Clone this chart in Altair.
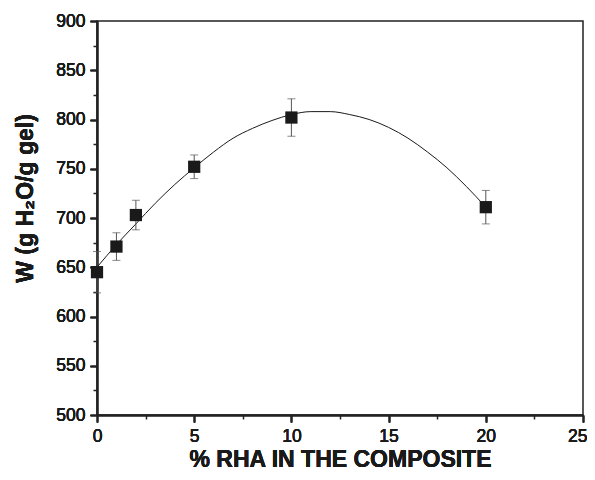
import altair as alt
import pandas as pd

rha = [0, 1, 2, 5, 10, 20]          # % RHA in the composite
w = [645, 671, 703, 752, 802, 711]  # W (g H2O / g gel)
err = [21, 14, 15, 12, 19, 17]      # error bar half-widths

# Fitted curve
curve_x = [0, 1, 2, 3, 4, 5, 6, 7, 8, 9, 10, 11, 12, 13, 14, 15, 16, 17, 18, 19, 20]
curve_w = [650, 673, 694, 715, 734, 751, 767, 781, 791, 799, 805, 808, 808, 805, 800, 792, 781, 767, 751, 732, 711]

x_major = [0, 5, 10, 15, 20, 25]
x_minor = [2.5, 7.5, 12.5, 17.5, 22.5]
y_major = [500, 550, 600, 650, 700, 750, 800, 850, 900]
y_minor = [525, 575, 625, 675, 725, 775, 825, 875]

df = pd.DataFrame({"rha": rha, "w": w, "err": err})
df["lo"] = df["w"] - df["err"]
df["hi"] = df["w"] + df["err"]
cdf = pd.DataFrame({"rha": curve_x, "w": curve_w})

FONT = "Liberation Sans"
INK = "#1a1a1a"
xscale = alt.Scale(domain=[0, 25], nice=False, zero=False)
yscale = alt.Scale(domain=[500, 900], nice=False, zero=False)

xaxis = alt.Axis(
    orient="bottom", values=x_major, format="d", grid=False,
    title="% RHA IN THE COMPOSITE", titleFont=FONT, titleFontSize=23,
    titleFontWeight="bold", titleColor=INK, titleBaseline="alphabetic",
    titleY=51,
    labelFont=FONT, labelFontSize=17.5, labelColor=INK, labelPadding=5,
    labelAlign={"expr": "datum.value == 25 ? 'right' : 'center'"},
    labelOffset={"expr": "datum.value == 25 ? 4 : 0"},
    tickSize=7, tickColor="#222", tickWidth=1.5,
    domainColor="#222", domainWidth=1.5, labelFlush=False,
)
yaxis = alt.Axis(
    orient="left", values=y_major, format="d", grid=False,
    title="W (g H₂O/g gel)", titleFont=FONT, titleFontSize=23,
    titleFontWeight="bold", titleColor=INK, titlePadding=18, titleY=177,
    labelFont=FONT, labelFontSize=17.5, labelColor=INK, labelPadding=5,
    tickSize=7, tickColor="#222", tickWidth=1.5,
    domainColor="#222", domainWidth=1.5, labelFlush=False,
)
xminor = alt.Axis(orient="bottom", values=x_minor, labels=False, title=None,
                  grid=False, domain=False, tickSize=4, tickColor="#222",
                  tickWidth=1.5)
yminor = alt.Axis(orient="left", values=y_minor, labels=False, title=None,
                  grid=False, domain=False, tickSize=4, tickColor="#222",
                  tickWidth=1.5)

base = alt.Chart(df)

minor = base.mark_point(opacity=0).encode(
    x=alt.X("rha:Q", scale=xscale, axis=xminor),
    y=alt.Y("w:Q", scale=yscale, axis=yminor),
)

curve = alt.Chart(cdf).mark_line(
    color=INK, strokeWidth=1, interpolate="monotone"
).encode(
    x=alt.X("rha:Q", scale=xscale, axis=xaxis),
    y=alt.Y("w:Q", scale=yscale, axis=yaxis),
)

bars = base.mark_rule(color="#555", strokeWidth=1).encode(
    x=alt.X("rha:Q", scale=xscale, axis=xaxis),
    y=alt.Y("lo:Q", scale=yscale, axis=yaxis),
    y2="hi:Q",
)
cap_lo = base.mark_tick(color="#555", thickness=1, size=8, orient="horizontal").encode(
    x=alt.X("rha:Q", scale=xscale, axis=xaxis),
    y=alt.Y("lo:Q", scale=yscale, axis=yaxis),
)
cap_hi = base.mark_tick(color="#555", thickness=1, size=8, orient="horizontal").encode(
    x=alt.X("rha:Q", scale=xscale, axis=xaxis),
    y=alt.Y("hi:Q", scale=yscale, axis=yaxis),
)
squares = base.mark_square(size=150, color=INK, opacity=1).encode(
    x=alt.X("rha:Q", scale=xscale, axis=xaxis),
    y=alt.Y("w:Q", scale=yscale, axis=yaxis),
)

chart = alt.layer(minor, curve, bars, cap_lo, cap_hi, squares).resolve_axis(
    x="independent", y="independent"
).properties(
    width=486, height=394,
    autosize=alt.AutoSizeParams(type="none"),
    padding={"left": 89, "top": 13, "right": 4, "bottom": 57},
).configure_view(stroke="#222", strokeWidth=1.5)

chart.save("out.html", embed_options={"renderer": "svg", "actions": False})
